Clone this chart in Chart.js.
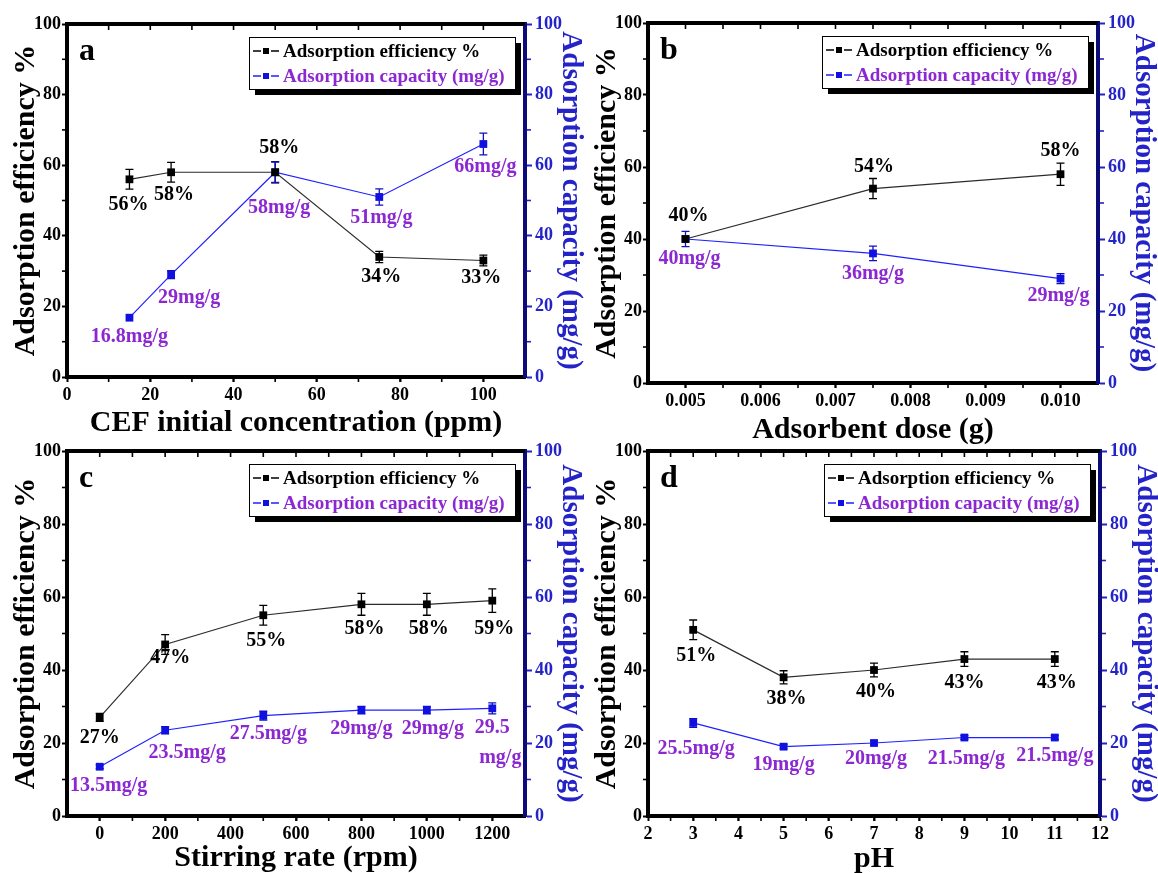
<!DOCTYPE html>
<html>
<head>
<meta charset="utf-8">
<script src="https://cdn.jsdelivr.net/npm/chart.js@4.4.1/dist/chart.umd.min.js"></script>
<style>
  html, body { margin: 0; padding: 0; background: #fff; }
  #wrap { position: relative; width: 1158px; height: 873px; overflow: hidden; background: #fff; }
  #wrap canvas { position: absolute; left: 0; top: 0; width: 1158px; height: 873px; }
</style>
</head>
<body>
<div id="wrap">
  <canvas id="pa" width="1158" height="873"></canvas>
  <canvas id="pb" width="1158" height="873"></canvas>
  <canvas id="pc" width="1158" height="873"></canvas>
  <canvas id="pd" width="1158" height="873"></canvas>
</div>
<script>
// ---- data ----
// a: initial concentration
var concA = [15, 25, 50, 75, 100];
var effA = [56, 58, 58, 34, 33];
var effErrA = [2.8, 2.8, 3, 1.6, 1.5];
var capA = [16.8, 29, 58, 51, 66];
var capErrA = [0, 1.1, 2.9, 2.3, 3.1];
var effLblA = ['56%', '58%', '58%', '34%', '33%'];
var capLblA = ['16.8mg/g', '29mg/g', '58mg/g', '51mg/g', '66mg/g'];
var xTicksA = [0, 20, 40, 60, 80, 100];

// b: adsorbent dose
var doseB = [0.005, 0.0075, 0.010];
var effB = [40, 54, 58];
var effErrB = [0, 2.8, 3.1];
var capB = [40, 36, 29];
var capErrB = [2.1, 2, 1.4];
var effLblB = ['40%', '54%', '58%'];
var capLblB = ['40mg/g', '36mg/g', '29mg/g'];
var xTicksB = [0.005, 0.006, 0.007, 0.008, 0.009, 0.010];

// c: stirring rate
var rpmC = [0, 200, 500, 800, 1000, 1200];
var effC = [27, 47, 55, 58, 58, 59];
var effErrC = [1.1, 2.7, 2.7, 3, 3, 3.2];
var capC = [13.5, 23.5, 27.5, 29, 29, 29.5];
var capErrC = [0.5, 1, 1.2, 1, 1, 1.5];
var effLblC = ['27%', '47%', '55%', '58%', '58%', '59%'];
var capLblC = ['13.5mg/g', '23.5mg/g', '27.5mg/g', '29mg/g', '29mg/g', '29.5\nmg/g'];
var xTicksC = [0, 200, 400, 600, 800, 1000, 1200];

// d: pH
var phD = [3, 5, 7, 9, 11];
var effD = [51, 38, 40, 43, 43];
var effErrD = [2.7, 1.8, 1.9, 2, 2];
var capD = [25.5, 19, 20, 21.5, 21.5];
var capErrD = [1.2, 0.6, 0.6, 0.5, 0.5];
var effLblD = ['51%', '38%', '40%', '43%', '43%'];
var capLblD = ['25.5mg/g', '19mg/g', '20mg/g', '21.5mg/g', '21.5mg/g'];
var xTicksD = [2, 3, 4, 5, 6, 7, 8, 9, 10, 11, 12];

var yTicks = [0, 20, 40, 60, 80, 100];
var legendNames = ['Adsorption efficiency %', 'Adsorption capacity (mg/g)'];

// ---- style ----
var FONT = '"Liberation Serif", "Times New Roman", serif';
var PURPLE = '#8c28d2';
var BLUE_LINE = '#2020ff';
var BLUE_TXT = '#2323c8';
var NAVY = '#0b0b7a';
var W = 1158, H = 873;

// label offsets (dx, dy) from each point, in px
var panels = [
  {
    id: 'pa', letter: 'a', area: [67, 24, 525, 377],
    xMin: 0, xMax: 110, xMinor: 10, xTicks: xTicksA, fmt: function(v) { return String(v); },
    xTitle: 'CEF initial concentration (ppm)', xTitleOff: 46,
    xs: concA, eff: effA, effErr: effErrA, cap: capA, capErr: capErrA,
    effLbl: effLblA, capLbl: capLblA,
    effPos: [[-1, 26], [3, 23], [4, -24], [2, 20], [-2, 17]],
    capPos: [[0, 19], [18, 23], [4, 36], [2, 21], [2, 23]]
  },
  {
    id: 'pb', letter: 'b', area: [648, 23, 1098, 383],
    xMin: 0.0045, xMax: 0.0105, xMinor: 0.0005, xTicks: xTicksB, fmt: function(v) { return v.toFixed(3); },
    xTitle: 'Adsorbent dose (g)', xTitleOff: 47,
    xs: doseB, eff: effB, effErr: effErrB, cap: capB, capErr: capErrB,
    effLbl: effLblB, capLbl: capLblB,
    effPos: [[3, -23], [1, -22], [0, -23]],
    capPos: [[4, 20], [0, 20], [-2, 17]]
  },
  {
    id: 'pc', letter: 'c', area: [67, 451, 525, 816],
    xMin: -100, xMax: 1300, xMinor: 100, xTicks: xTicksC, fmt: function(v) { return String(v); },
    xTitle: 'Stirring rate (rpm)', xTitleOff: 42,
    xs: rpmC, eff: effC, effErr: effErrC, cap: capC, capErr: capErrC,
    effLbl: effLblC, capLbl: capLblC,
    effPos: [[0, 20], [5, 13], [3, 26], [3, 25], [2, 25], [2, 28]],
    capPos: [[9, 19], [22, 23], [5, 18], [0, 19], [6, 19], [0, 20]]
  },
  {
    id: 'pd', letter: 'd', area: [648, 451, 1100, 816],
    xMin: 2, xMax: 12, xMinor: 0.5, xTicks: xTicksD, fmt: function(v) { return String(v); },
    xTitle: 'pH', xTitleOff: 43,
    xs: phD, eff: effD, effErr: effErrD, cap: capD, capErr: capErrD,
    effLbl: effLblD, capLbl: capLblD,
    effPos: [[3, 26], [3, 22], [2, 22], [0, 24], [2, 24]],
    capPos: [[3, 26], [0, 18], [2, 16], [2, 21], [0, 18]]
  }
];

function drawErrors(ctx, xs, ys, errs, xs_, ys_, color) {
  ctx.save();
  ctx.strokeStyle = color;
  ctx.lineWidth = 1.3;
  for (var i = 0; i < xs.length; i++) {
    if (!errs[i]) continue;
    var x = xs_.getPixelForValue(xs[i]);
    var yt = ys_.getPixelForValue(ys[i] + errs[i]);
    var yb = ys_.getPixelForValue(ys[i] - errs[i]);
    ctx.beginPath();
    ctx.moveTo(x, yt); ctx.lineTo(x, yb);
    ctx.moveTo(x - 4, yt); ctx.lineTo(x + 4, yt);
    ctx.moveTo(x - 4, yb); ctx.lineTo(x + 4, yb);
    ctx.stroke();
  }
  ctx.restore();
}

function drawLabels(ctx, xs, ys, labels, pos, xs_, ys_, color) {
  ctx.save();
  ctx.fillStyle = color;
  ctx.font = 'bold 20px ' + FONT;
  ctx.textAlign = 'center';
  ctx.textBaseline = 'middle';
  for (var i = 0; i < xs.length; i++) {
    var x = xs_.getPixelForValue(xs[i]) + pos[i][0];
    var y = ys_.getPixelForValue(ys[i]) + pos[i][1];
    var lines = labels[i].split('\n');
    for (var k = 0; k < lines.length; k++) {
      ctx.fillText(lines[k], x + (k ? 8 : 0), y + k * 30);
    }
  }
  ctx.restore();
}

function makePlugin(p) {
  return {
    id: 'decor_' + p.id,
    beforeDatasetsDraw: function(chart) {
      var ctx = chart.ctx, s = chart.scales;
      drawErrors(ctx, p.xs, p.eff, p.effErr, s.x, s.y, '#000');
      drawErrors(ctx, p.xs, p.cap, p.capErr, s.x, s.y2, '#1010c0');
    },
    afterDatasetsDraw: function(chart) {
      var ctx = chart.ctx, s = chart.scales;
      drawLabels(ctx, p.xs, p.eff, p.effLbl, p.effPos, s.x, s.y, '#000');
      drawLabels(ctx, p.xs, p.cap, p.capLbl, p.capPos, s.x, s.y2, PURPLE);
    },
    afterDraw: function(chart) {
      var ctx = chart.ctx, a = chart.chartArea, s = chart.scales;
      ctx.save();
      // top frame line
      ctx.strokeStyle = '#000';
      ctx.lineWidth = 4;
      ctx.beginPath();
      ctx.moveTo(a.left - 2, a.top);
      ctx.lineTo(a.right, a.top);
      ctx.stroke();
      // x ticks: minor at bottom, all on top (inward)
      ctx.lineWidth = 1.6;
      var n = Math.round((p.xMax - p.xMin) / p.xMinor);
      for (var i = 1; i < n; i++) {
        var v = p.xMin + i * p.xMinor;
        var x = s.x.getPixelForValue(v);
        ctx.beginPath();
        ctx.moveTo(x, a.top + 2); ctx.lineTo(x, a.top + 6);
        ctx.moveTo(x, a.bottom + 2); ctx.lineTo(x, a.bottom + 5);
        ctx.stroke();
      }
      // y minor ticks
      for (var m = 10; m < 100; m += 20) {
        var y = s.y.getPixelForValue(m);
        ctx.strokeStyle = '#000';
        ctx.beginPath(); ctx.moveTo(a.left - 2, y); ctx.lineTo(a.left - 5, y); ctx.stroke();
        ctx.strokeStyle = BLUE_TXT;
        ctx.beginPath(); ctx.moveTo(a.right + 2, y); ctx.lineTo(a.right + 6, y); ctx.stroke();
      }
      // panel letter
      ctx.fillStyle = '#000';
      ctx.font = 'bold 32px ' + FONT;
      ctx.textAlign = 'left';
      ctx.textBaseline = 'alphabetic';
      ctx.fillText(p.letter, a.left + 12, a.top + 36);
      // legend with drop shadow
      var lw = 266, lh = 52;
      var lx = a.right - 10 - lw, ly = a.top + 13;
      ctx.fillStyle = '#000';
      ctx.fillRect(lx + 6, ly + 6, lw, lh);
      ctx.fillStyle = '#fff';
      ctx.fillRect(lx, ly, lw, lh);
      ctx.strokeStyle = '#000';
      ctx.lineWidth = 1;
      ctx.strokeRect(lx + 0.5, ly + 0.5, lw, lh);
      var rows = [
        { y: ly + 14, line: '#000', mark: '#000', txt: '#000', name: legendNames[0] },
        { y: ly + 39, line: BLUE_LINE, mark: '#1010e0', txt: PURPLE, name: legendNames[1] }
      ];
      ctx.font = 'bold 19px ' + FONT;
      ctx.textBaseline = 'middle';
      rows.forEach(function(r) {
        ctx.strokeStyle = r.line;
        ctx.lineWidth = 1.3;
        ctx.beginPath();
        ctx.moveTo(lx + 4, r.y); ctx.lineTo(lx + 12, r.y);
        ctx.moveTo(lx + 22, r.y); ctx.lineTo(lx + 30, r.y);
        ctx.stroke();
        ctx.fillStyle = r.mark;
        ctx.fillRect(lx + 14, r.y - 3, 6, 6);
        ctx.fillStyle = r.txt;
        ctx.fillText(r.name, lx + 34, r.y + 1);
      });
      ctx.restore();
    }
  };
}

function makeChart(p) {
  var a = p.area;
  var leftW = 62, rightW = 70;
  var bottomH = Math.min(62, H - a[3]);
  var pts = function(ys) { return p.xs.map(function(x, i) { return { x: x, y: ys[i] }; }); };
  var tickFont = { family: FONT, weight: 'bold', size: 18 };

  return new Chart(document.getElementById(p.id), {
    type: 'line',
    data: {
      datasets: [
        {
          label: legendNames[0], data: pts(p.eff), yAxisID: 'y',
          borderColor: '#2b2b2b', borderWidth: 1.2,
          pointStyle: 'rect', pointRadius: 5.5,
          pointBackgroundColor: '#000', pointBorderColor: '#000', pointBorderWidth: 0
        },
        {
          label: legendNames[1], data: pts(p.cap), yAxisID: 'y2',
          borderColor: BLUE_LINE, borderWidth: 1.2,
          pointStyle: 'rect', pointRadius: 5.5,
          pointBackgroundColor: '#1010e0', pointBorderColor: '#1010e0', pointBorderWidth: 0
        }
      ]
    },
    options: {
      responsive: false,
      animation: false,
      events: [],
      layout: {
        padding: { left: a[0] - leftW, top: a[1], right: W - a[2] - rightW, bottom: H - a[3] - bottomH }
      },
      plugins: { legend: { display: false }, tooltip: { enabled: false } },
      scales: {
        x: {
          type: 'linear', position: 'bottom', min: p.xMin, max: p.xMax,
          afterBuildTicks: function(s) { s.ticks = p.xTicks.map(function(v) { return { value: v }; }); },
          afterFit: function(s) { s.height = bottomH; },
          ticks: { font: tickFont, color: '#000', padding: 3, maxRotation: 0, autoSkip: false,
                   callback: function(v) { return p.fmt(v); } },
          grid: { drawOnChartArea: false, drawTicks: true, tickLength: 5, tickWidth: 2, tickColor: '#000' },
          border: { display: true, color: '#000', width: 4 },
          title: { display: true, text: p.xTitle, color: '#000',
                   font: { family: FONT, weight: 'bold', size: 30, lineHeight: 1 },
                   padding: { top: 0, bottom: bottomH - p.xTitleOff - 15 } }
        },
        y: {
          type: 'linear', position: 'left', min: 0, max: 100,
          afterBuildTicks: function(s) { s.ticks = yTicks.map(function(v) { return { value: v }; }); },
          afterFit: function(s) { s.width = leftW; },
          ticks: { font: tickFont, color: '#000', padding: 1 },
          grid: { drawOnChartArea: false, drawTicks: true, tickLength: 5, tickWidth: 2, tickColor: '#000' },
          border: { display: true, color: '#000', width: 4 },
          title: { display: true, text: legendNames[0], color: '#000',
                   font: { family: FONT, weight: 'bold', size: 30, lineHeight: 1 },
                   padding: { top: 6, bottom: 0 } }
        },
        y2: {
          type: 'linear', position: 'right', min: 0, max: 100,
          afterBuildTicks: function(s) { s.ticks = yTicks.map(function(v) { return { value: v }; }); },
          afterFit: function(s) { s.width = rightW; },
          ticks: { font: tickFont, color: BLUE_TXT, padding: 3 },
          grid: { drawOnChartArea: false, drawTicks: true, tickLength: 7, tickWidth: 2, tickColor: BLUE_TXT },
          border: { display: true, color: NAVY, width: 4 },
          title: { display: true, text: legendNames[1], color: BLUE_TXT,
                   font: { family: FONT, weight: 'bold', size: 29, lineHeight: 1 },
                   padding: { top: 10, bottom: 0 } }
        }
      }
    },
    plugins: [makePlugin(p)]
  });
}

panels.forEach(makeChart);
</script>
</body>
</html>
